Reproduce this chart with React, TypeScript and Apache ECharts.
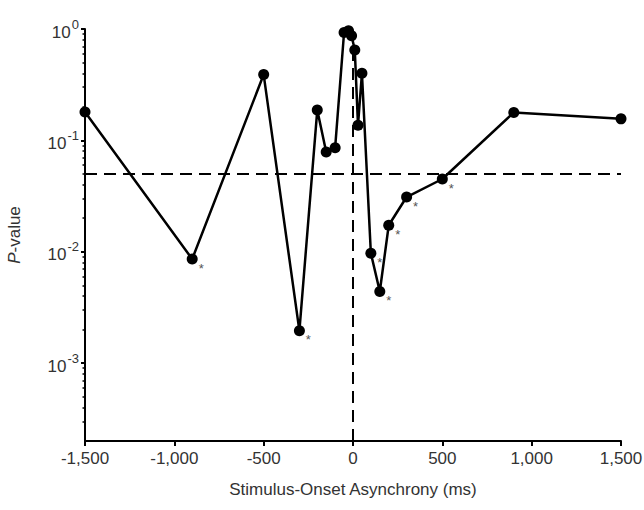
import React, { useEffect, useRef } from "react";
import * as echarts from "echarts";

// Stimulus-onset asynchrony (ms) and corresponding P-values
const soaMs = [-1500, -900, -500, -300, -200, -150, -100, -50, -25, -8, 10, 28, 50, 100, 150, 200, 300, 500, 900, 1500];
const pValues = [0.18, 0.0086, 0.39, 0.00195, 0.187, 0.0785, 0.086, 0.93, 0.965, 0.87, 0.647, 0.137, 0.4, 0.0097, 0.0044, 0.0173, 0.031, 0.045, 0.178, 0.156];
const significant = [false, true, false, true, false, false, false, false, false, false, false, false, false, true, true, true, true, true, false, false];

const xMin = -1500;
const xMax = 1500;
const xInterval = 500;
const yMin = 0.0002;
const yMax = 1;
const yMajorTicks = [0.001, 0.01, 0.1, 1];
const yMinorTicks = [
  0.0003, 0.0004, 0.0005, 0.0006, 0.0007, 0.0008, 0.0009,
  0.002, 0.003, 0.004, 0.005, 0.006, 0.007, 0.008, 0.009,
  0.02, 0.03, 0.04, 0.05, 0.06, 0.07, 0.08, 0.09,
  0.2, 0.3, 0.4, 0.5, 0.6, 0.7, 0.8, 0.9,
];
const alphaLevel = 0.05;
const xLabel = "Stimulus-Onset Asynchrony (ms)";

const FONT = "Liberation Sans, Arial, sans-serif";
const TEXT = "#333";

function fmtThousands(v: number): string {
  const s = Math.abs(v).toString().replace(/\B(?=(\d{3})+(?!\d))/g, ",");
  return (v < 0 ? "-" : "") + s;
}

export default function App() {
  const ref = useRef<HTMLDivElement>(null);
  useEffect(() => {
    if (!ref.current) return;
    const chart = echarts.init(ref.current, undefined, { renderer: "svg" });
    const data = soaMs.map((x, i) => ({
      value: [x, pValues[i]],
      label: significant[i]
        ? {
            show: true,
            formatter: "*",
            position: "inside",
            offset: [9, 9],
            color: "#555",
            fontSize: 13,
            fontFamily: FONT,
          }
        : { show: false },
    }));
    chart.setOption({
      animation: false,
      grid: { left: 85, right: 23, top: 29, bottom: 69, outerBoundsMode: "none" },
      xAxis: {
        type: "value",
        min: xMin,
        max: xMax,
        interval: xInterval,
        name: xLabel,
        nameLocation: "middle",
        nameGap: 40,
        nameTextStyle: { fontSize: 17, color: TEXT, fontFamily: FONT },
        axisLine: { show: true, onZero: false, lineStyle: { color: "#000", width: 2 } },
        axisTick: { show: true, length: 5, lineStyle: { color: "#000", width: 2 } },
        axisLabel: {
          fontSize: 17,
          color: TEXT,
          fontFamily: FONT,
          margin: 9,
          formatter: (v: number) => fmtThousands(v),
        },
        splitLine: { show: false },
      },
      yAxis: [
        {
          type: "log",
          logBase: 10,
          min: yMin,
          max: yMax,
          position: "left",
          name: "{i|P}-value",
          nameLocation: "middle",
          nameGap: 62,
          nameTextStyle: {
            fontSize: 17,
            color: TEXT,
            fontFamily: FONT,
            rich: {
              i: { fontSize: 17, color: TEXT, fontFamily: FONT, fontStyle: "italic" },
            },
          },
          axisLine: { show: true, onZero: false, lineStyle: { color: "#000", width: 2 } },
          axisTick: {
            show: true,
            length: 4,
            customValues: yMajorTicks,
            lineStyle: { color: "#000", width: 2 },
          },
          axisLabel: {
            customValues: yMajorTicks,
            margin: 6,
            formatter: (v: number) => `{b|10}{s|${Math.round(Math.log10(v))}}`,
            rich: {
              b: { fontSize: 17, color: TEXT, fontFamily: FONT, verticalAlign: "bottom" },
              s: {
                fontSize: 13,
                color: TEXT,
                fontFamily: FONT,
                verticalAlign: "bottom",
                padding: [0, 0, 10, 1],
              },
            },
          },
          splitLine: { show: false },
        },
        {
          type: "log",
          logBase: 10,
          min: yMin,
          max: yMax,
          position: "left",
          axisLine: { show: false, onZero: false },
          axisLabel: { show: false },
          axisTick: {
            show: true,
            length: 2.5,
            customValues: yMinorTicks,
            lineStyle: { color: "#000", width: 1.5 },
          },
          splitLine: { show: false },
        },
      ],
      series: [
        {
          type: "line",
          data,
          yAxisIndex: 0,
          symbol: "circle",
          symbolSize: 11,
          itemStyle: { color: "#000" },
          lineStyle: { color: "#000", width: 2.5 },
          markLine: {
            silent: true,
            symbol: "none",
            label: { show: false },
            lineStyle: { color: "#000", width: 2, type: [12, 7] },
            data: [
              [{ coord: [xMin, alphaLevel] }, { coord: [xMax, alphaLevel] }],
              [{ coord: [0, yMin] }, { coord: [0, yMax] }],
            ],
          },
        },
      ],
    });
    return () => chart.dispose();
  }, []);
  return (
    <div
      ref={ref}
      style={{ position: "absolute", left: 0, top: 0, width: 644, height: 510, background: "#fff" }}
    />
  );
}
